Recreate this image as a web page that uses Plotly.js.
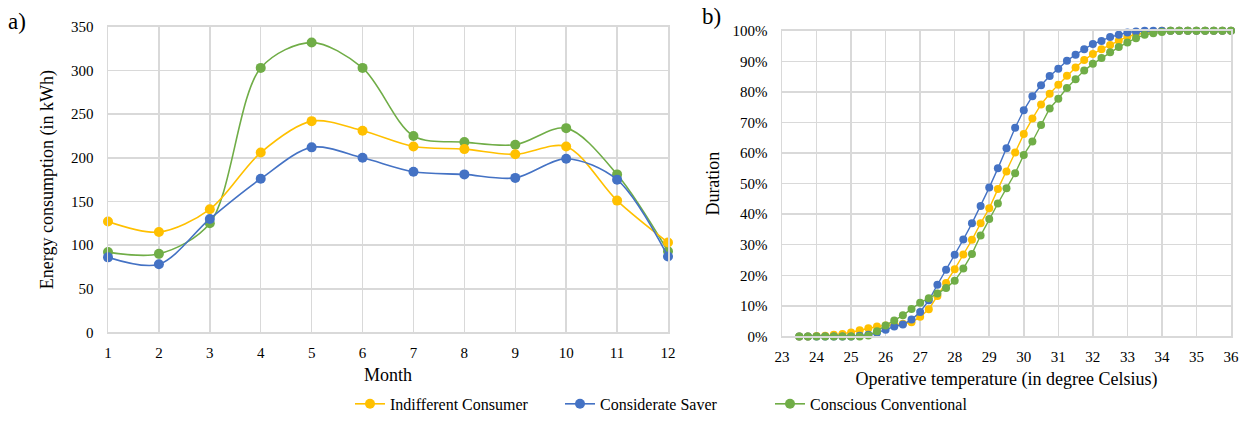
<!DOCTYPE html>
<html><head><meta charset="utf-8">
<script src="https://cdn.plot.ly/plotly-3.0.1.min.js"></script>
<style>html,body{margin:0;padding:0;background:#fff;}#chart{width:1252px;height:421px;}</style>
</head><body><div id="chart"></div>
<script>
// ---- Panel a) monthly energy consumption (kWh) ----
const months = [1,2,3,4,5,6,7,8,9,10,11,12];
const indifferentConsumer = [127,115,141,206,242,231,213,210,204,213,151,103];
const considerateSaver    = [86,78,130,176,212,200,184,181,177,199,175,87];
const consciousConventional = [92,90,125,303,332,303,225,218,215,234,181,93];

// ---- Panel b) cumulative duration (%) vs operative temperature ----
const temps = [23.5,23.75,24,24.25,24.5,24.75,25,25.25,25.5,25.75,26,26.25,26.5,26.75,27,27.25,27.5,27.75,28,28.25,28.5,28.75,29,29.25,29.5,29.75,30,30.25,30.5,30.75,31,31.25,31.5,31.75,32,32.25,32.5,32.75,33,33.25,33.5,33.75,34,34.25,34.5,34.75,35,35.25,35.5,35.75,36];
const durIndifferent = [0,0,0.1,0.2,0.5,0.8,1.3,2.0,2.7,3.2,3.6,3.8,4.1,4.6,6.4,8.9,13.2,17.5,22.0,26.8,31.6,37.0,41.9,48.2,54.0,60.2,66.2,71.3,75.9,79.4,82.4,85.3,88.0,90.5,92.4,94.0,95.4,96.8,98.1,98.9,99.4,99.7,100,100,100,100,100,100,100,100,100];
const durSaver = [0,0,0,0,0,0,0,0.2,0.5,1.2,2.2,3.2,3.9,5.5,8.0,11.8,16.9,21.8,26.7,31.7,37.0,42.7,48.7,55.0,61.6,68.3,74.0,78.6,82.2,85.2,87.6,90.2,92.2,94.0,95.7,96.7,98.0,98.7,99.5,99.8,100,100,100,100,100,100,100,100,100,100,100];
const durConventional = [0,0,0,0,0,0,0,0,0.3,1.7,3.6,5.2,6.9,9.0,11.0,12.5,14.0,15.8,18.2,22.2,27.0,33.0,38.4,43.5,48.5,53.4,59.4,63.8,69.2,74.6,77.8,81.3,84.2,87.0,89.2,91.1,93.0,94.7,96.2,97.6,98.7,99.2,99.6,100,100,100,100,100,100,100,100];

const names = ['Indifferent Consumer','Considerate Saver','Conscious Conventional'];
const colors = ['#FFC000','#4472C4','#70AD47'];
const serif = 'Liberation Serif';

const traces = [];
const leftData = [indifferentConsumer, considerateSaver, consciousConventional];
[2,0,1].forEach(i => {
  traces.push({
    x: months, y: leftData[i], name: names[i], type: 'scatter', mode: 'lines+markers',
    xaxis: 'x', yaxis: 'y', legendrank: i+1, cliponaxis: false,
    line: {color: colors[i], width: 1.6, shape: 'spline', smoothing: 0.9},
    marker: {color: colors[i], size: 10}
  });
});
const rightData = [durIndifferent, durSaver, durConventional];
[0,1,2].forEach(i => {
  traces.push({
    x: temps, y: rightData[i], name: names[i], type: 'scatter', mode: 'lines+markers',
    xaxis: 'x2', yaxis: 'y2', showlegend: false, cliponaxis: false,
    line: {color: colors[i], width: 1.4},
    marker: {color: colors[i], size: 8}
  });
});

const grid = '#d9d9d9';
function tf() { return {family: serif, size: 15, color: '#000'}; }
function ttf() { return {family: serif, size: 18, color: '#000'}; }

const layout = {
  width: 1252, height: 421,
  font: {family: serif, size: 15, color: '#000'},
  margin: {l: 0, r: 0, t: 0, b: 0},
  paper_bgcolor: '#fff', plot_bgcolor: '#fff',
  showlegend: true,
  legend: {orientation: 'h', x: 350/1252, xanchor: 'left', y: 0.036, yanchor: 'middle',
           font: {family: serif, size: 16, color: '#000'}, traceorder: 'normal',
           itemwidth: 30, entrywidth: 165, entrywidthmode: 'pixels'},
  xaxis: {domain: [108/1252, 668/1252], range: [1, 12], dtick: 1, tick0: 1,
          showgrid: true, gridcolor: grid, gridwidth: 1.5, zeroline: false,
          showline: true, mirror: true, linecolor: grid, linewidth: 1.5,
          tickfont: tf(), ticks: '', ticklabelstandoff: 6,
          title: {text: 'Month', font: ttf(), standoff: 8}},
  yaxis: {domain: [1-334/421, 1-27/421], range: [0, 350], dtick: 50,
          showgrid: true, gridcolor: grid, gridwidth: 1.5, zeroline: false,
          showline: true, mirror: true, linecolor: grid, linewidth: 1.5,
          tickfont: tf(), ticks: '', ticklabelstandoff: 10,
          title: {text: 'Energy consumption (in kWh)', font: ttf(), standoff: 12}},
  xaxis2: {domain: [782/1252, 1231/1252], range: [23, 36], dtick: 1, tick0: 23, anchor: 'y2',
          showgrid: true, gridcolor: grid, gridwidth: 1.5, zeroline: false,
          showline: true, mirror: true, linecolor: grid, linewidth: 1.5,
          tickfont: tf(), ticks: '', ticklabelstandoff: 6,
          title: {text: 'Operative temperature (in degree Celsius)', font: ttf(), standoff: 8}},
  yaxis2: {domain: [1-338/421, 1-31/421], range: [0, 100], dtick: 10, anchor: 'x2',
          ticksuffix: '%',
          showgrid: true, gridcolor: grid, gridwidth: 1.5, zeroline: false,
          showline: true, mirror: true, linecolor: grid, linewidth: 1.5,
          tickfont: tf(), ticks: '', ticklabelstandoff: 10,
          title: {text: 'Duration', font: ttf(), standoff: 8}},
  annotations: [
    {text: 'a)', xref: 'paper', yref: 'paper', x: 6/1252, y: 1-22/421, xanchor: 'left', yanchor: 'middle',
     showarrow: false, font: {family: serif, size: 23, color: '#000'}},
    {text: 'b)', xref: 'paper', yref: 'paper', x: 700/1252, y: 1-17/421, xanchor: 'left', yanchor: 'middle',
     showarrow: false, font: {family: serif, size: 23, color: '#000'}}
  ]
};

Plotly.newPlot('chart', traces, layout, {displayModeBar: false, staticPlot: true});
</script>
</body></html>
